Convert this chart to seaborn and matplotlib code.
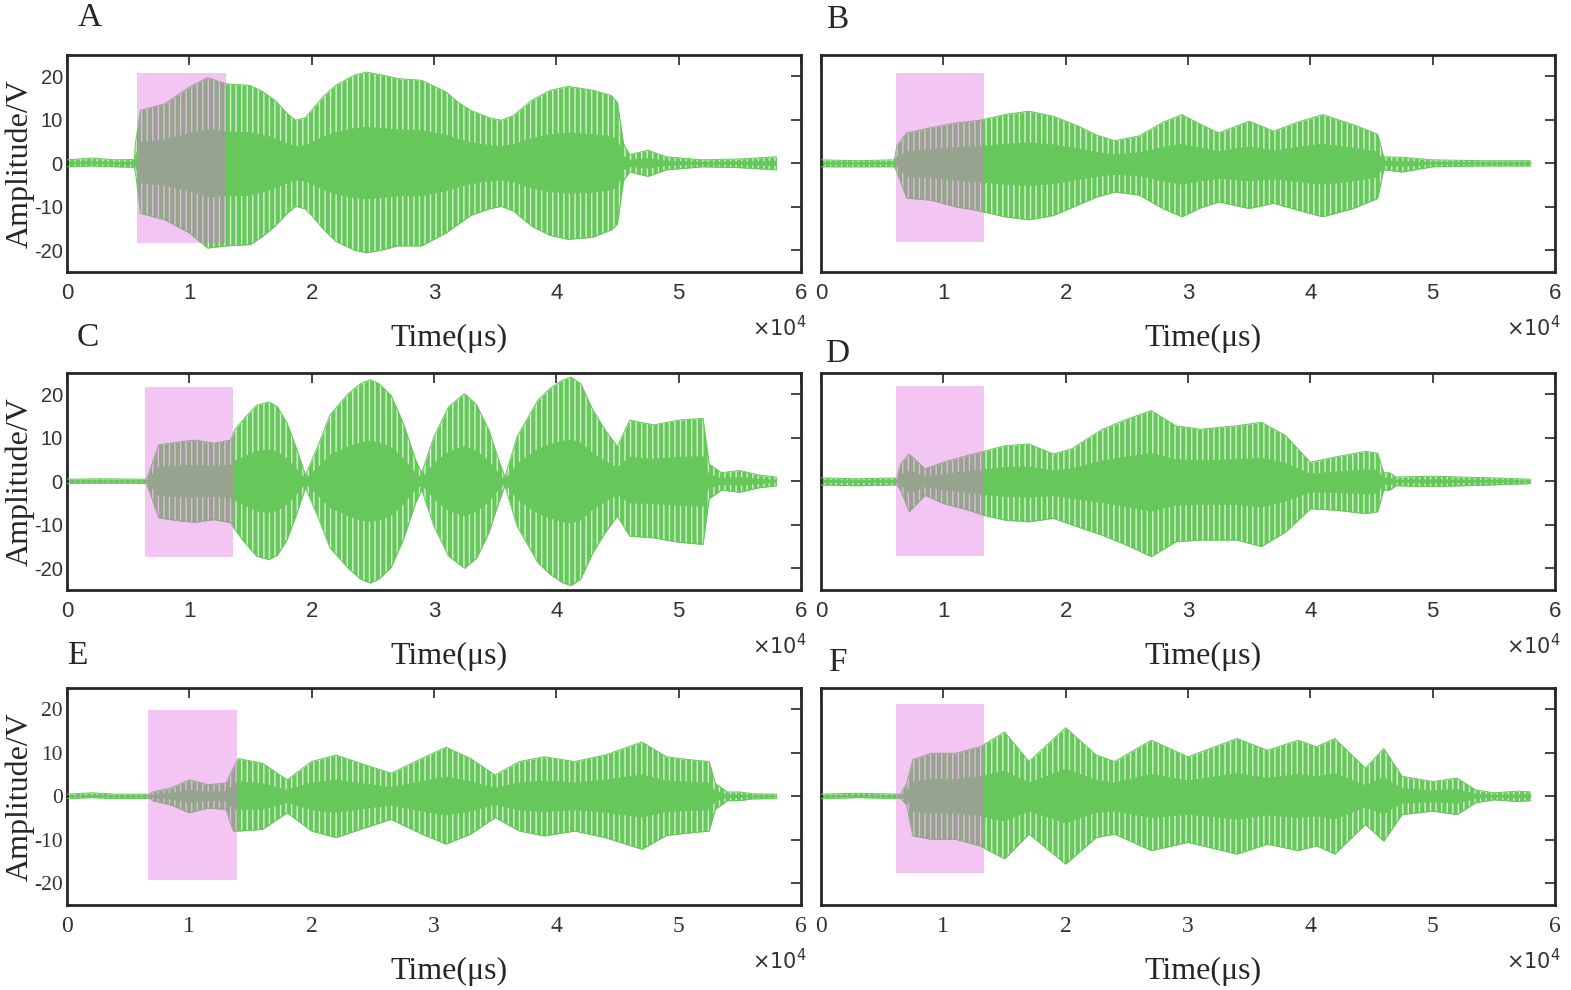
import seaborn as sns
import matplotlib.pyplot as plt
import pandas as pd

t_A = [0, 0.2, 0.4, 0.55, 0.56, 0.6, 0.8, 1.0, 1.15, 1.3, 1.5, 1.6, 1.7, 1.8, 1.87, 1.95, 2.0, 2.1, 2.2, 2.35,
       2.45, 2.6, 2.7, 2.9, 3.1, 3.2, 3.3, 3.45, 3.55, 3.65, 3.8, 3.95, 4.1, 4.3, 4.45, 4.5, 4.55, 4.6, 4.75, 4.9,
       5.2, 5.5, 5.8]
up_A = [0.8, 1.2, 0.8, 0.9, 4.6, 12.2, 13.7, 17.5, 19.7, 18.3, 17.9, 16.5, 14.5, 11.5, 9.9, 10.5, 12.2, 15.5, 18.0, 20.3,
        21.0, 20.2, 19.5, 19.1, 16.4, 14.0, 12.2, 10.5, 9.9, 11.0, 14.5, 16.8, 17.7, 16.8, 15.6, 14.0, 4.5, 2.0, 3.0, 1.5,
        0.8, 1.0, 1.5]
lo_A = [-0.8, -0.6, -0.8, -0.9, -2.0, -11.5, -13.0, -16.0, -19.5, -19.0, -18.7, -16.8, -14.5, -11.5, -9.9, -10.5, -12.0, -15.3, -18.0, -20.0,
        -20.6, -19.8, -19.0, -19.0, -16.0, -14.0, -12.0, -10.5, -9.9, -11.0, -14.5, -16.6, -17.5, -17.0, -15.3, -14.0, -4.0, -2.0, -3.0, -1.5,
        -0.8, -1.0, -1.5]

t_B = [0, 0.3, 0.6, 0.62, 0.7, 0.9, 1.1, 1.3, 1.5, 1.7, 1.9, 2.1, 2.25, 2.4, 2.6, 2.8, 2.95, 3.1, 3.25, 3.5,
       3.7, 3.9, 4.1, 4.35, 4.55, 4.6, 4.75, 5.0, 5.4, 5.8]
up_B = [0.8, 0.6, 0.8, 4.0, 7.0, 8.2, 9.3, 9.9, 11.2, 12.0, 10.8, 8.6, 6.5, 5.2, 6.3, 9.5, 11.2, 9.0, 7.0, 9.7,
        7.4, 9.5, 11.2, 8.9, 6.7, 1.5, 1.4, 0.8, 0.6, 0.6]
lo_B = [-0.8, -0.8, -0.8, -2.0, -8.0, -8.5, -10.0, -11.0, -12.3, -13.0, -12.0, -9.6, -7.8, -6.6, -7.3, -10.5, -12.3, -10.3, -8.9, -10.4,
        -9.2, -10.8, -12.3, -10.4, -8.1, -1.5, -2.0, -0.8, -0.6, -0.6]

t_C = [0, 0.3, 0.65, 0.67, 0.75, 0.95, 1.05, 1.2, 1.34, 1.37, 1.45, 1.55, 1.65, 1.72, 1.8, 1.88, 1.95, 2.05, 2.15, 2.3,
       2.4, 2.48, 2.55, 2.65, 2.75, 2.85, 2.9, 3.0, 3.12, 3.25, 3.35, 3.45, 3.52, 3.58, 3.68, 3.85, 3.95, 4.05, 4.12, 4.2,
       4.3, 4.4, 4.5, 4.6, 4.8, 5.0, 5.2, 5.25, 5.35, 5.5, 5.65, 5.8]
up_C = [0.5, 0.6, 0.5, 2.0, 8.4, 9.2, 9.5, 8.8, 9.5, 11.8, 14.5, 17.5, 18.3, 17.2, 13.4, 7.3, 1.5, 8.0, 15.3, 20.2,
        22.5, 23.4, 22.5, 19.8, 13.4, 5.0, 2.0, 10.3, 17.2, 20.2, 17.6, 11.8, 5.7, 1.0, 10.3, 18.7, 21.4, 23.3, 24.0, 22.5,
        16.4, 11.8, 8.0, 14.1, 13.0, 14.1, 14.5, 4.0, 2.0, 2.5, 1.5, 1.0]
lo_C = [-0.5, -0.4, -0.5, -2.0, -8.4, -9.2, -9.4, -8.8, -9.5, -11.0, -14.0, -17.2, -18.0, -17.0, -13.4, -7.3, -1.5, -8.0, -15.3, -20.0,
        -22.5, -23.4, -22.5, -19.8, -13.4, -5.0, -2.0, -10.3, -17.2, -20.0, -17.6, -11.8, -5.7, -1.0, -10.3, -18.7, -21.4, -23.3, -24.0, -22.5,
        -16.4, -11.8, -8.0, -12.6, -13.0, -14.0, -14.5, -4.0, -2.0, -2.5, -1.5, -1.0]

t_D = [0, 0.3, 0.62, 0.65, 0.72, 0.85, 1.0, 1.2, 1.33, 1.5, 1.7, 1.9, 2.05, 2.3, 2.5, 2.7, 2.9, 3.1, 3.4, 3.6,
       3.8, 4.0, 4.2, 4.45, 4.55, 4.6, 4.65, 4.7, 5.0, 5.5, 5.8]
up_D = [0.8, 0.6, 0.8, 4.0, 6.3, 2.9, 4.4, 6.0, 6.9, 8.2, 8.6, 6.3, 7.5, 12.0, 14.3, 16.3, 12.8, 12.0, 12.8, 13.6,
        10.5, 4.4, 5.6, 6.9, 6.5, 2.0, 2.0, 1.0, 1.2, 0.8, 0.5]
lo_D = [-0.8, -1.0, -0.8, -2.0, -7.0, -3.2, -5.1, -6.6, -7.8, -8.9, -9.3, -8.5, -10.0, -12.4, -14.7, -17.3, -13.9, -13.5, -13.5, -15.0,
        -11.6, -6.3, -6.6, -7.4, -7.0, -2.0, -2.0, -1.0, -1.2, -0.8, -0.5]

t_E = [0, 0.2, 0.4, 0.68, 0.7, 0.85, 1.0, 1.15, 1.3, 1.36, 1.4, 1.6, 1.8, 2.0, 2.2, 2.4, 2.65, 2.9, 3.1, 3.3,
       3.5, 3.7, 3.9, 4.15, 4.4, 4.7, 4.9, 5.1, 5.25, 5.3, 5.4, 5.5, 5.6, 5.8]
up_E = [0.5, 0.8, 0.5, 0.5, 1.0, 1.9, 3.8, 2.7, 3.0, 6.5, 8.7, 7.6, 3.8, 8.0, 9.5, 7.6, 5.3, 8.7, 11.3, 8.7,
        4.9, 8.0, 9.1, 8.0, 9.5, 12.5, 9.1, 8.4, 8.0, 3.0, 1.0, 1.0, 0.6, 0.5]
lo_E = [-0.5, -0.3, -0.5, -0.5, -1.0, -2.0, -3.8, -2.7, -3.0, -8.0, -8.0, -7.6, -3.8, -8.0, -9.5, -7.6, -5.3, -8.7, -11.0, -8.7,
        -4.9, -8.0, -9.1, -8.0, -9.5, -12.2, -9.0, -8.4, -8.0, -3.0, -1.0, -1.0, -0.6, -0.5]

t_F = [0, 0.3, 0.65, 0.7, 0.75, 0.9, 1.1, 1.3, 1.35, 1.5, 1.7, 2.0, 2.25, 2.4, 2.7, 3.0, 3.4, 3.65, 3.9, 4.05,
       4.2, 4.45, 4.6, 4.75, 5.0, 5.2, 5.35, 5.5, 5.7, 5.8]
up_F = [0.5, 0.7, 0.5, 3.0, 8.4, 9.9, 9.9, 11.4, 12.2, 14.8, 8.0, 15.8, 9.5, 8.0, 12.9, 9.1, 13.3, 10.6, 12.9, 11.4,
        13.3, 6.5, 11.0, 4.6, 3.4, 4.2, 1.5, 0.8, 1.2, 1.0]
lo_F = [-0.5, -0.3, -0.5, -2.0, -9.1, -9.9, -9.9, -11.4, -12.2, -14.4, -8.7, -15.6, -9.5, -8.7, -12.5, -10.6, -13.3, -11.0, -12.5, -11.4,
        -13.3, -6.5, -10.3, -4.2, -3.4, -4.2, -1.5, -0.8, -1.2, -1.0]

# highlighted window of each panel: [t_start, t_end, v_low, v_high]
win_A = [0.57, 1.30, -18.3, 20.8]
win_B = [0.61, 1.33, -18.0, 20.8]
win_C = [0.64, 1.36, -17.3, 21.8]
win_D = [0.61, 1.33, -17.1, 22.0]
win_E = [0.665, 1.39, -19.2, 19.8]
win_F = [0.61, 1.33, -17.7, 21.3]

panel_names = ["A", "B", "C", "D", "E", "F"]
signals = [(t_A, up_A, lo_A, win_A), (t_B, up_B, lo_B, win_B), (t_C, up_C, lo_C, win_C),
           (t_D, up_D, lo_D, win_D), (t_E, up_E, lo_E, win_E), (t_F, up_F, lo_F, win_F)]

x_ticks = [0, 1, 2, 3, 4, 5, 6]
y_ticks = [-20, -10, 0, 10, 20]

sns.set_style("white")
plt.rcParams['font.family'] = ['Liberation Serif', 'DejaVu Serif']
plt.rcParams['hatch.linewidth'] = 1.0

green = "#66C85A"
stripe = "#D8F0D4"
pink = "#E070E0"
serif = ['Liberation Serif', 'DejaVu Serif']
sans = ['Liberation Sans', 'DejaVu Sans']

fig = plt.figure(figsize=(15.71, 9.9), dpi=100)

col_left = [0.0426, 0.5226]
row_bottom = [0.7253, 0.404, 0.0859]
ax_w, ax_h = 0.4672, 0.2195
# centres of the panel letters, figure fraction
letter_pos = [(0.057, 0.982), (0.533, 0.980), (0.056, 0.659), (0.533, 0.643), (0.049, 0.338), (0.533, 0.331)]

for i, (name, (t, up, lo, win)) in enumerate(zip(panel_names, signals)):
    r, c = divmod(i, 2)
    ax = fig.add_axes([col_left[c], row_bottom[r], ax_w, ax_h])
    df = pd.DataFrame({"t": t, "up": up, "lo": lo})
    ax.fill_between(df["t"], df["lo"], df["up"], color=green, linewidth=0, zorder=2)
    # carrier texture near the envelope edges
    ax.fill_between(df["t"], df["up"] * 0.4, df["up"], facecolor="none", edgecolor=stripe,
                    hatch="|||", linewidth=0, zorder=2.5)
    ax.fill_between(df["t"], df["lo"], df["lo"] * 0.4, facecolor="none", edgecolor=stripe,
                    hatch="|||", linewidth=0, zorder=2.5)
    sns.lineplot(data=df, x="t", y="up", ax=ax, color=green, linewidth=0.7, sort=False, zorder=3)
    sns.lineplot(data=df, x="t", y="lo", ax=ax, color=green, linewidth=0.7, sort=False, zorder=3)
    ax.fill_between([win[0], win[1]], win[2], win[3], color=pink, alpha=0.4, linewidth=0, zorder=4)

    ax.set_xlim(0, 6)
    ax.set_ylim(-25, 25)
    ax.set_xticks(x_ticks)
    ax.set_yticks(y_ticks)
    tick_font, tick_size = (serif, 16) if r == 2 else (sans, 15)
    ax.set_xticklabels([str(v) for v in x_ticks], family=tick_font, fontsize=tick_size + 1, color="#333333")
    if c == 0:
        ax.set_yticklabels([str(v) for v in y_ticks], family=tick_font, fontsize=tick_size - 0.5, color="#333333")
        ax.set_ylabel("Amplitude/V", family=serif, fontsize=23)
        ax.yaxis.set_label_coords(-0.0436, 0.5)
    else:
        ax.set_yticklabels([])
        ax.set_ylabel("")
    ax.tick_params(direction="in", length=7, width=1.2, top=True, right=True, color="#262626")
    ax.tick_params(axis="x", pad=8)
    ax.tick_params(axis="y", pad=3)
    ax.set_xlabel("Time(\u03bcs)", family=serif, fontsize=23)
    ax.xaxis.set_label_coords(0.52, -0.24)
    for s in ax.spines.values():
        s.set_linewidth(2)
        s.set_color("#262626")
    ax.text(0.97, -0.26, r"$\times10^{4}$", transform=ax.transAxes, ha="center", va="center",
            fontsize=15, color="#333333")
    fig.text(letter_pos[i][0], letter_pos[i][1], name, family=serif, fontsize=24, va="center", ha="center")

plt.savefig("out.png", dpi=100)
